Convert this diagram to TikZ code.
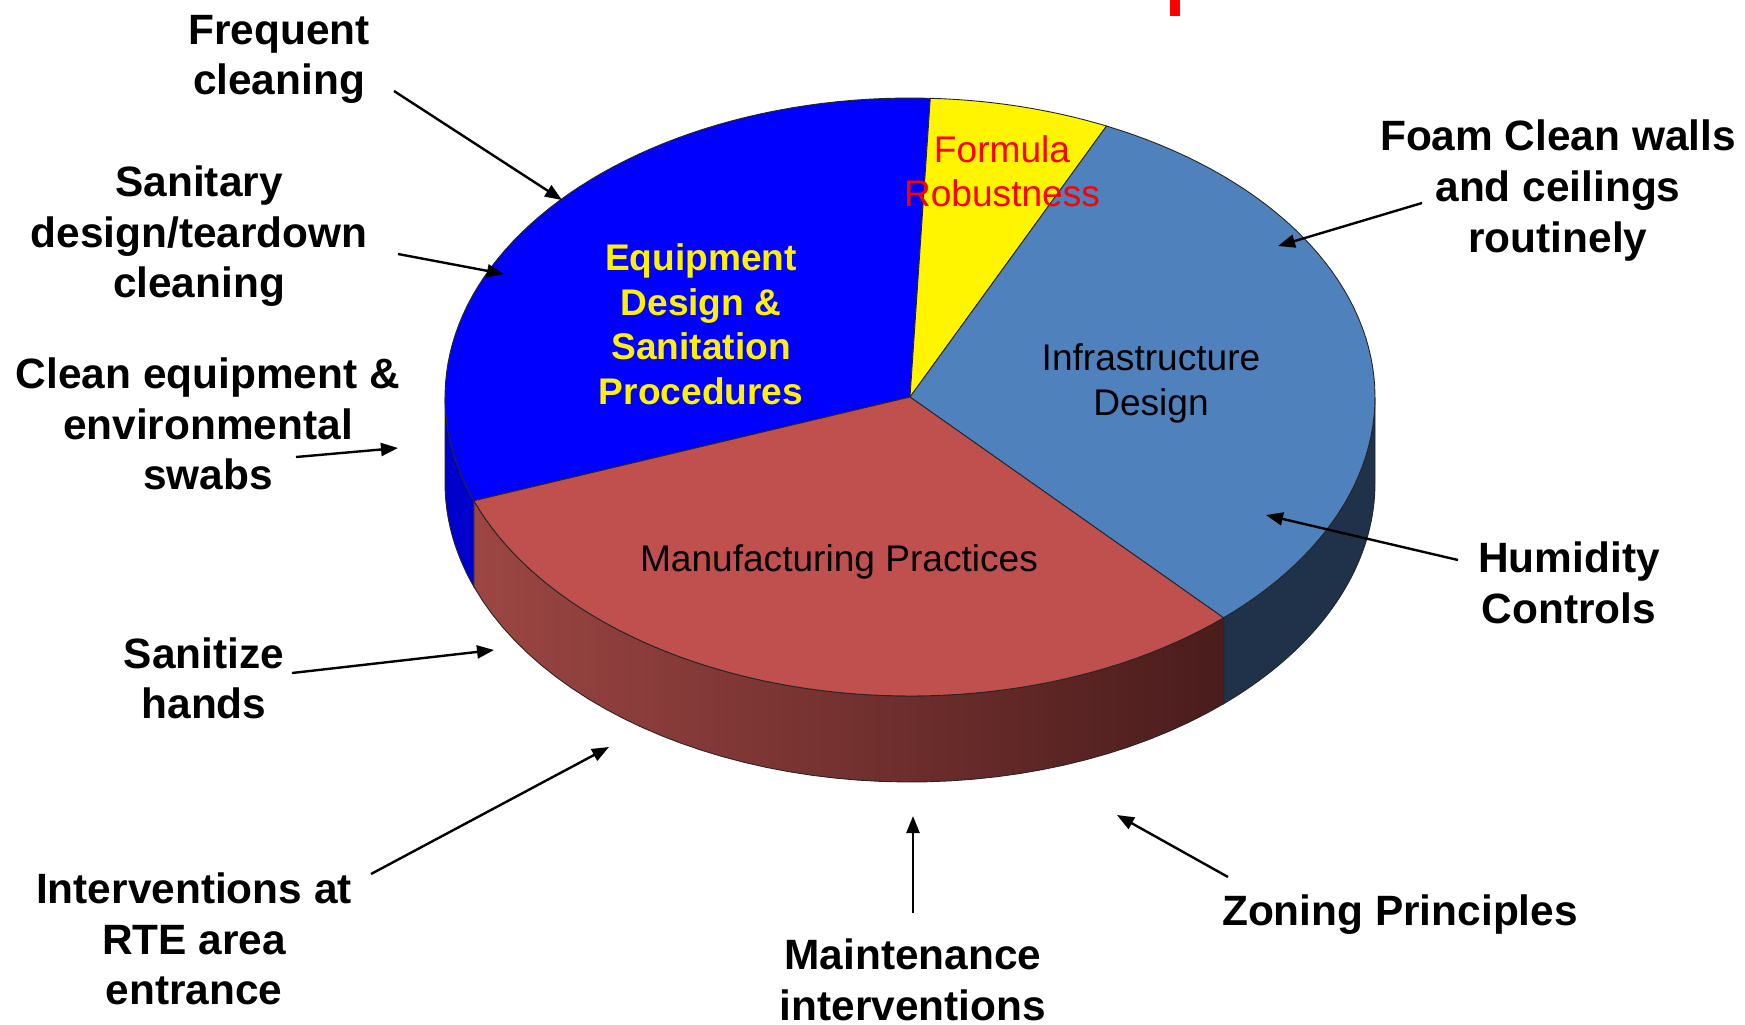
\documentclass[tikz,border=0pt]{standalone}
\usepackage{fontspec}
\setmainfont{Liberation Sans}
\usetikzlibrary{arrows.meta}
\definecolor{eqblue}{HTML}{0000FF}
\definecolor{eqblueside}{HTML}{0000CC}
\definecolor{frmyellow}{HTML}{FFF500}
\definecolor{infblue}{HTML}{4F81BD}
\definecolor{infside}{HTML}{1F3249}
\definecolor{mfgred}{HTML}{C0504D}
\definecolor{mfgsideL}{HTML}{9C4643}
\definecolor{mfgsideM}{HTML}{5E2624}
\definecolor{mfgsideR}{HTML}{4A1C1C}
\definecolor{rimline}{HTML}{262626}
\begin{document}
\begin{tikzpicture}[x=0.5pt,y=-0.5pt,
  lbl/.style={font=\fontsize{21.2}{25.3}\selectfont\bfseries, align=center, inner sep=0pt},
  inlbl/.style={font=\fontsize{18.55}{22.25}\selectfont, align=center, inner sep=0pt},
  arr/.style={-{Triangle[length=8.5pt,width=6.5pt]}, line width=1.2pt},
  rim/.style={draw=rimline, line width=0.45pt},
]
\useasboundingbox (0,0) rectangle (1745,1024);
\fill[white] (0,0) rectangle (1745,1024);

% pie geometry (centre, radii, thickness)
\def\cx{910}\def\cy{397}\def\rx{465}\def\ry{299}\def\dep{86}
% outer wall of a slice between angles #1 < #2 (lower half only)
\newcommand{\piewall}[3]{%
  \path[#3] plot[domain=#1:#2,samples=40] ({\cx+\rx*cos(\x)},{\cy-\ry*sin(\x)})
    -- plot[domain=#1:#2,samples=40] ({\cx+\rx*cos(#1+#2-\x)},{\cy+\dep-\ry*sin(#1+#2-\x)})
    -- cycle;}
% top face of a slice between angles #1 < #2
\newcommand{\pietop}[3]{%
  \path[#3] (\cx,\cy) -- plot[domain=#1:#2,samples=60] ({\cx+\rx*cos(\x)},{\cy-\ry*sin(\x)}) -- cycle;}

% side walls
\piewall{180}{200.3}{fill=eqblueside,rim}
\piewall{200.3}{312.4}{left color=mfgsideL,middle color=mfgsideM,right color=mfgsideR,rim}
\piewall{312.4}{360}{fill=infside,rim}

% top faces
\pietop{87.5}{200.3}{fill=eqblue,rim}
\pietop{65}{87.5}{fill=frmyellow,rim}
\pietop{-47.6}{65}{fill=infblue,rim}
\pietop{200.3}{312.4}{fill=mfgred,rim}

% small red mark at the top edge
\fill[red] (1170,0) rectangle (1180,16);

% slice captions
\node[inlbl,font=\fontsize{18.55}{22.25}\selectfont\bfseries,text=yellow] (eq) at (701,324) {Equipment\\Design \&\\Sanitation\\Procedures};
\node[inlbl,text=red] (frm) at (1002,171) {Formula\\Robustness};
\node[inlbl] (inf) at (1151,383.5) {Infrastructure\\Design};
\node[inlbl] (mfg) at (839,561.5) {Manufacturing Practices};

% outer labels
\node[lbl] (l1) at (279,59.5) {Frequent\\cleaning};
\node[lbl] (l2) at (199,236.5) {Sanitary\\design/teardown\\cleaning};
\node[lbl] (l3) at (208,424) {Clean equipment \&\\environmental\\swabs};
\node[lbl] (l4) at (204,678.5) {Sanitize\\hands};
\node[lbl] (l5) at (194,939) {Interventions at\\RTE area\\entrance};
\node[lbl] (l6) at (913,980) {Maintenance\\interventions};
\node[lbl] (l7) at (1400,914.5) {Zoning Principles};
\node[lbl] (l8) at (1569,583) {Humidity\\Controls};
\node[lbl] (l9) at (1558,190.5) {Foam Clean walls\\and ceilings\\routinely};

% arrow tails and tips
\coordinate (t1) at (394,91);   \coordinate (h1) at (562,200);
\coordinate (t2) at (398,254);  \coordinate (h2) at (504,274);
\coordinate (t3) at (296,457);  \coordinate (h3) at (398,448);
\coordinate (t4) at (292,673);  \coordinate (h4) at (494,650);
\coordinate (t5) at (371,874);  \coordinate (h5) at (609,747);
\coordinate (t6) at (913,913);  \coordinate (h6) at (913,816);
\coordinate (t7) at (1228,877); \coordinate (h7) at (1117,815);
\coordinate (t8) at (1458,560); \coordinate (h8) at (1266,515);
\coordinate (t9) at (1422,203); \coordinate (h9) at (1278,246);
\foreach \i in {1,...,9} \draw[arr] (t\i) -- (h\i);
\end{tikzpicture}
\end{document}
